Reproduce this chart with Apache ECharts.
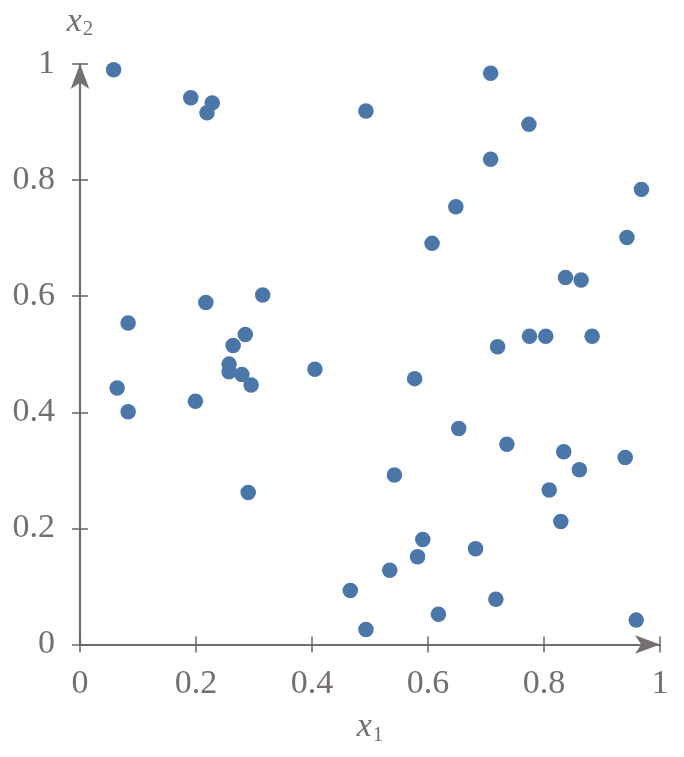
<!DOCTYPE html>
<html>
<head>
<meta charset="utf-8">
<script src="https://cdn.jsdelivr.net/npm/echarts@6/dist/echarts.min.js"></script>
<style>
  html, body { margin: 0; padding: 0; background: #ffffff; }
  #chart { width: 684px; height: 757px; }
</style>
</head>
<body>
<div id="chart"></div>
<script>
// sample points
const x1 = [0.058, 0.191, 0.228, 0.219, 0.493, 0.315, 0.217, 0.083, 0.285, 0.264,
  0.708, 0.774, 0.708, 0.968, 0.648, 0.943, 0.607, 0.837, 0.864, 0.775,
  0.803, 0.883, 0.720, 0.257, 0.257, 0.279, 0.295, 0.405, 0.064, 0.083,
  0.199, 0.290, 0.466, 0.493, 0.577, 0.653, 0.736, 0.834, 0.940, 0.861,
  0.542, 0.809, 0.829, 0.591, 0.582, 0.682, 0.534, 0.717, 0.618, 0.959]
const x2 = [0.990, 0.942, 0.933, 0.916, 0.919, 0.602, 0.589, 0.554, 0.534, 0.515,
  0.984, 0.896, 0.836, 0.784, 0.754, 0.701, 0.691, 0.632, 0.628, 0.531,
  0.531, 0.531, 0.513, 0.483, 0.470, 0.465, 0.447, 0.474, 0.442, 0.401,
  0.419, 0.262, 0.093, 0.026, 0.458, 0.372, 0.345, 0.332, 0.322, 0.301,
  0.292, 0.266, 0.212, 0.181, 0.151, 0.165, 0.128, 0.078, 0.052, 0.042]
const tickValues = [0, 0.2, 0.4, 0.6, 0.8, 1]
const tickLabels = ['0', '0.2', '0.4', '0.6', '0.8', '1']

const grey = '#746e6e'
const font = 'Liberation Serif'

function tickText (v) {
  const i = tickValues.findIndex(t => Math.abs(t - v) < 1e-9)
  return i >= 0 ? tickLabels[i] : ''
}

const nameRich = {
  a: { fontFamily: font, fontStyle: 'italic', fontSize: 34, lineHeight: 34, verticalAlign: 'top', color: grey },
  b: { fontFamily: font, fontSize: 21, lineHeight: 21, padding: [14, 0, 0, 1], verticalAlign: 'top', color: grey }
}

// main axes: line, arrow, labels, ticks outside
function mainAxis (isX) {
  return {
    type: 'value',
    gridIndex: 0,
    min: tickValues[0],
    max: tickValues[tickValues.length - 1],
    interval: tickValues[1] - tickValues[0],
    name: isX ? '{a|x}{b|1}' : '{a|x}{b|2}',
    nameLocation: isX ? 'middle' : 'end',
    nameGap: isX ? 66 : 25,
    nameTextStyle: { rich: nameRich },
    axisLine: {
      show: true,
      symbol: ['none', 'arrow'],
      symbolSize: [14, 25],
      symbolOffset: [0, 0],
      lineStyle: { color: grey, width: 2.2 }
    },
    axisTick: { show: true, inside: false, length: 8, lineStyle: { color: '#6a6464', width: 1.5 } },
    axisLabel: {
      color: grey,
      fontFamily: font,
      fontSize: 34,
      margin: isX ? 23 : 25,
      formatter: tickText
    },
    splitLine: { show: false }
  }
}

// twin axes on an identical grid, only for the inner half of the ticks
function twinAxis () {
  return {
    type: 'value',
    gridIndex: 1,
    min: tickValues[0],
    max: tickValues[tickValues.length - 1],
    interval: tickValues[1] - tickValues[0],
    axisLine: { show: false },
    axisTick: { show: true, inside: true, length: 8, lineStyle: { color: '#6a6464', width: 1.5 } },
    axisLabel: { show: false },
    splitLine: { show: false }
  }
}

const chart = echarts.init(document.getElementById('chart'), null, { renderer: 'canvas' })

const gridBox = { left: 80, right: 24, top: 64, bottom: 112.5, containLabel: false }

chart.setOption({
  animation: false,
  backgroundColor: '#ffffff',
  grid: [Object.assign({}, gridBox), Object.assign({}, gridBox)],
  xAxis: [mainAxis(true), twinAxis()],
  yAxis: [mainAxis(false), twinAxis()],
  series: [{
    type: 'scatter',
    xAxisIndex: 0,
    yAxisIndex: 0,
    symbolSize: 15.5,
    itemStyle: { color: '#4a76a8', opacity: 1 },
    data: x1.map((v, i) => [v, x2[i]])
  }]
})
</script>
</body>
</html>
